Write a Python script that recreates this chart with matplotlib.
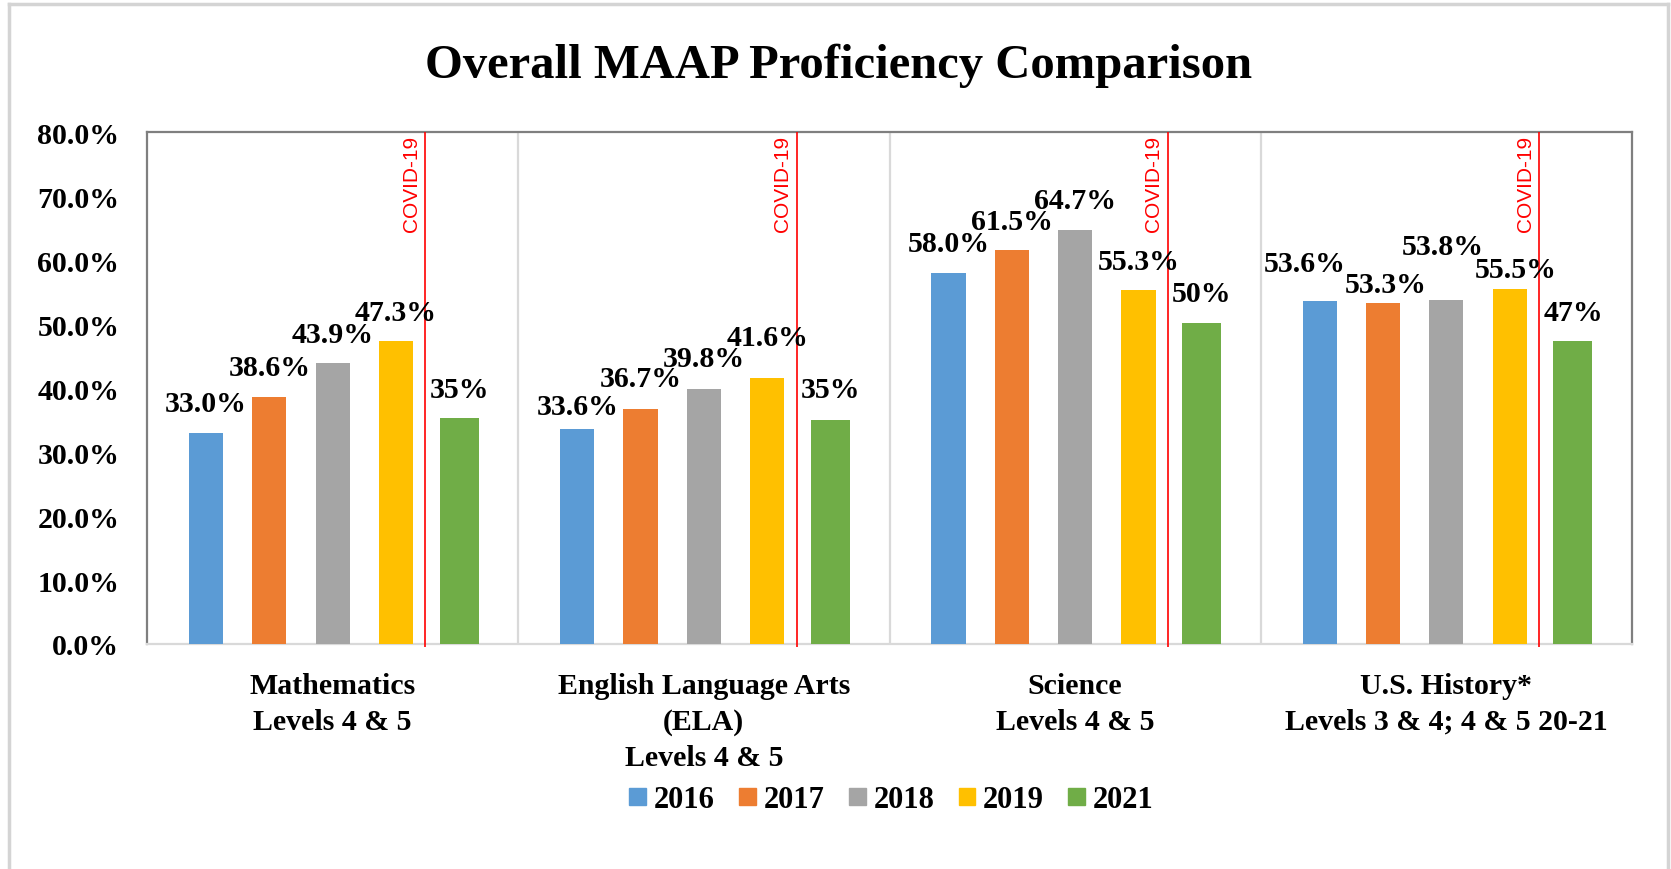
import numpy as np
import matplotlib.pyplot as plt
from matplotlib.lines import Line2D

# DATA

subjects = ['Mathematics\nLevels 4 & 5',
            'English Language Arts\n(ELA)\nLevels 4 & 5',
            'Science\nLevels 4 & 5',
            'U.S. History*\nLevels 3 & 4; 4 & 5 20-21']
years = ['2016', '2017', '2018', '2019', '2021']

y2016 = [33.0, 33.6, 58.0, 53.6]
y2017 = [38.6, 36.7, 61.5, 53.3]
y2018 = [43.9, 39.8, 64.7, 53.8]
y2019 = [47.3, 41.6, 55.3, 55.5]
y2021 = [35.3, 35.0, 50.2, 47.3]

labels2016 = ['33.0%', '33.6%', '58.0%', '53.6%']
labels2017 = ['38.6%', '36.7%', '61.5%', '53.3%']
labels2018 = ['43.9%', '39.8%', '64.7%', '53.8%']
labels2019 = ['47.3%', '41.6%', '55.3%', '55.5%']
labels2021 = ['35%', '35%', '50%', '47%']

yticks = [0, 10, 20, 30, 40, 50, 60, 70, 80]
covid_text = 'COVID-19'

# STYLE

colors = ['#5B9BD5', '#ED7D31', '#A5A5A5', '#FFC000', '#70AD47']
series = [y2016, y2017, y2018, y2019, y2021]
series_labels = [labels2016, labels2017, labels2018, labels2019, labels2021]

# hand-moved data labels in the original (pixels: dx, dy)
nudges = {(1, 0): (0, -6.5), (1, 1): (0, 1.5), (1, 2): (0, 1.5), (1, 3): (0, 11.5), (1, 4): (0, 1.5),
          (3, 0): (-15, 8), (3, 1): (3, -11), (3, 2): (-4, 24), (3, 3): (6, -10)}

plt.rcParams['font.family'] = ['Liberation Serif', 'DejaVu Serif']
plt.rcParams['font.weight'] = 'bold'

# PLOT

fig = plt.figure(figsize=(16.71, 8.70), dpi=100)
ax = fig.add_axes([147 / 1671, 225 / 870, 1485 / 1671, 512 / 870])

x = np.arange(len(subjects))
step = 0.1705
for j, (vals, col) in enumerate(zip(series, colors)):
    w = 0.105 if j == 4 else 0.092
    pos = x + (j - 2) * step
    ax.bar(pos, vals, width=w, color=col, zorder=3)
    for i, (p, v) in enumerate(zip(pos, vals)):
        dx, dy = nudges.get((i, j), (0, 0))
        ax.annotate(series_labels[j][i], (p, v), xytext=(dx * 0.72, (21.5 + dy) * 0.72),
                    textcoords='offset points', ha='center', va='baseline',
                    fontsize=21.5, fontweight='bold', zorder=5)

# category separators
for k in range(1, len(subjects)):
    ax.axvline(k - 0.5, color='#d9d9d9', lw=1.6, zorder=1)

# COVID-19 markers
for i in x:
    ax.vlines(i + 0.25, -0.5, 80, color='red', lw=1.2, zorder=4, clip_on=False)
    ax.text(i + 0.25 - 0.012, 79.6, covid_text, rotation=90, ha='right', va='top',
            color='red', fontsize=15, fontweight='normal', family='Liberation Sans')

ax.set_xlim(-0.5, len(subjects) - 0.5)
ax.set_ylim(0, 80)
ax.set_yticks(yticks)
ax.set_yticklabels([f'{t:.1f}%' for t in yticks], fontsize=21.5, fontweight='bold')
ax.set_xticks(x)
ax.set_xticklabels(subjects, fontsize=21.5, fontweight='bold')
for lbl in ax.get_xticklabels():
    lbl.set_linespacing(1.42)
ax.tick_params(axis='y', length=0, pad=20)
ax.tick_params(axis='x', length=0, pad=20)

for side in ['left', 'top', 'right']:
    ax.spines[side].set_color('#7f7f7f')
    ax.spines[side].set_linewidth(1.6)
ax.spines['bottom'].set_color('#d9d9d9')
ax.spines['bottom'].set_linewidth(1.6)

fig.text(839 / 1671, (870 - 78) / 870, 'Overall MAAP Proficiency Comparison',
         ha='center', va='baseline', fontsize=35, fontweight='bold')

handles = [plt.Rectangle((0, 0), 1, 1, color=c) for c in colors]
fig.legend(handles, years, loc='center', bbox_to_anchor=(891.5 / 1671, 69 / 870), ncol=5,
           frameon=False, fontsize=22, handlelength=0.55, handleheight=0.5,
           handletextpad=0.25, columnspacing=0.8, borderpad=0)

# outer frame of the pasted chart
frame = dict(color='#d4d4d4', lw=2.5, transform=fig.transFigure)
fig.add_artist(Line2D([9 / 1671, 9 / 1671], [0, 865 / 870], **frame))
fig.add_artist(Line2D([1668 / 1671, 1668 / 1671], [0, 865 / 870], **frame))
fig.add_artist(Line2D([9 / 1671, 1668 / 1671], [865 / 870, 865 / 870], **frame))

fig.savefig('out.png', dpi=100)
